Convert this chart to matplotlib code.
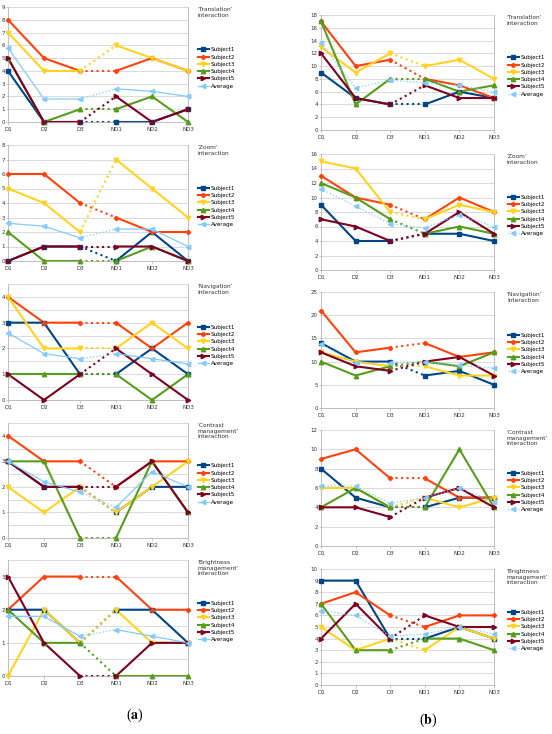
import matplotlib
matplotlib.use("Agg")
import matplotlib.pyplot as plt
from matplotlib.lines import Line2D
import numpy as np

plt.rcParams['font.family'] = ['DejaVu Sans']
plt.rcParams['mathtext.fontset'] = 'stix'

sessions = ["D1", "D2", "D3", "ND1", "ND2", "ND3"]
series_names = ["Subject1", "Subject2", "Subject3", "Subject4", "Subject5", "Average"]

titles = ["\u2018Translation\u2019\ninteraction",
          "\u2018Zoom\u2019\ninteraction",
          "\u2018Navigation\u2019\nInteraction",
          "\u2018Contrast\nmanagement\u2019\ninteraction",
          "\u2018Brightness\nmanagement\u2019\ninteraction"]

# ---- column (a) ----
a_translation = {
    "Subject1": [4, 0, 0, 0, 0, 1],
    "Subject2": [8, 5, 4, 4, 5, 4],
    "Subject3": [7, 4, 4, 6, 5, 4],
    "Subject4": [5, 0, 1, 1, 2, 0],
    "Subject5": [5, 0, 0, 2, 0, 1],
    "Average":  [5.8, 1.8, 1.8, 2.6, 2.4, 2.0],
}
a_zoom = {
    "Subject1": [0, 1, 1, 0, 2, 0],
    "Subject2": [6, 6, 4, 3, 2, 2],
    "Subject3": [5, 4, 2, 7, 5, 3],
    "Subject4": [2, 0, 0, 0, 1, 0],
    "Subject5": [0, 1, 1, 1, 1, 0],
    "Average":  [2.6, 2.4, 1.6, 2.2, 2.2, 1.0],
}
a_navigation = {
    "Subject1": [3, 3, 1, 1, 2, 1],
    "Subject2": [4, 3, 3, 3, 2, 3],
    "Subject3": [4, 2, 2, 2, 3, 2],
    "Subject4": [1, 1, 1, 1, 0, 1],
    "Subject5": [1, 0, 1, 2, 1, 0],
    "Average":  [2.6, 1.8, 1.6, 1.8, 1.6, 1.4],
}
a_contrast = {
    "Subject1": [3, 2, 2, 1, 2, 2],
    "Subject2": [4, 3, 3, 2, 3, 3],
    "Subject3": [2, 1, 2, 1, 2, 3],
    "Subject4": [3, 3, 0, 0, 3, 1],
    "Subject5": [3, 2, 2, 2, 3, 1],
    "Average":  [3.0, 2.2, 1.8, 1.2, 2.6, 2.0],
}
a_brightness = {
    "Subject1": [2, 2, 1, 2, 2, 1],
    "Subject2": [2, 3, 3, 3, 2, 2],
    "Subject3": [0, 2, 1, 2, 1, 1],
    "Subject4": [2, 1, 1, 0, 0, 0],
    "Subject5": [3, 1, 0, 0, 1, 1],
    "Average":  [1.8, 1.8, 1.2, 1.4, 1.2, 1.0],
}

# ---- column (b) ----
b_translation = {
    "Subject1": [9, 5, 4, 4, 6, 5],
    "Subject2": [17, 10, 11, 8, 7, 5],
    "Subject3": [13, 9, 12, 10, 11, 8],
    "Subject4": [17, 4, 8, 8, 6, 7],
    "Subject5": [12, 5, 4, 7, 5, 5],
    "Average":  [13.6, 6.6, 7.8, 7.4, 7.0, 6.0],
}
b_zoom = {
    "Subject1": [9, 4, 4, 5, 5, 4],
    "Subject2": [13, 10, 9, 7, 10, 8],
    "Subject3": [15, 14, 8, 7, 9, 8],
    "Subject4": [12, 10, 7, 5, 6, 5],
    "Subject5": [7, 6, 4, 5, 8, 5],
    "Average":  [11.2, 8.8, 6.4, 5.8, 7.6, 6.0],
}
b_navigation = {
    "Subject1": [14, 10, 10, 7, 8, 5],
    "Subject2": [21, 12, 13, 14, 11, 12],
    "Subject3": [12, 10, 9, 9, 7, 7],
    "Subject4": [10, 7, 9, 10, 9, 12],
    "Subject5": [12, 9, 8, 10, 11, 7],
    "Average":  [13.8, 9.6, 9.8, 10.0, 9.2, 8.6],
}
b_contrast = {
    "Subject1": [8, 5, 4, 4, 5, 5],
    "Subject2": [9, 10, 7, 7, 5, 5],
    "Subject3": [6, 6, 4, 5, 4, 5],
    "Subject4": [4, 6, 4, 4, 10, 4],
    "Subject5": [4, 4, 3, 5, 6, 4],
    "Average":  [6.2, 6.2, 4.4, 5.0, 6.0, 4.6],
}
b_brightness = {
    "Subject1": [9, 9, 4, 4, 5, 4],
    "Subject2": [7, 8, 6, 5, 6, 6],
    "Subject3": [5, 3, 4, 3, 5, 4],
    "Subject4": [7, 3, 3, 4, 4, 3],
    "Subject5": [4, 7, 4, 6, 5, 5],
    "Average":  [6.4, 6.0, 4.2, 4.4, 5.0, 4.4],
}

col_a = [a_translation, a_zoom, a_navigation, a_contrast, a_brightness]
col_b = [b_translation, b_zoom, b_navigation, b_contrast, b_brightness]

a_ylims = [(0, 9, 1, None), (0, 8, 1, None), (0, 4.5, 1, 0.5), (0, 4.5, 1, 0.5), (0, 3.5, 1, 0.5)]
b_ylims = [(0, 18, 2, None), (0, 16, 2, None), (0, 25, 5, None), (0, 12, 2, None), (0, 10, 1, None)]

colors = {"Subject1": "#004586", "Subject2": "#ff420e", "Subject3": "#ffd320",
          "Subject4": "#579d1c", "Subject5": "#7e0021", "Average": "#83caff"}
markers = {"Subject1": ("s", 3.2), "Subject2": ("D", 2.2), "Subject3": ("v", 3.2),
           "Subject4": ("^", 3.2), "Subject5": (">", 3.2), "Average": ("<", 3.2)}

W, H = 552, 734
fig = plt.figure(figsize=(W / 100, H / 100), dpi=100)

a_rows = [(7, 122), (145, 261), (284, 400), (423, 538), (560, 676)]
b_rows = [(15, 130), (154, 270), (292, 408), (430, 546), (569, 685)]
a_x = (8, 188)
b_x = (321, 494)

grid_c = "#d4d4d4"
axis_c = "#b3b3b3"
x = np.arange(len(sessions))


def draw(ax, data, ylim, title, avg_dotted, leg_x, title_x):
    lo, hi, step, minor = ylim
    ax.set_xlim(0, len(sessions) - 1)
    ax.set_ylim(lo, hi)
    ax.set_yticks(np.arange(lo, hi + 0.001, step))
    if minor:
        ax.set_yticks(np.arange(lo, hi + 0.001, minor), minor=True)
        ax.grid(True, axis="y", which="minor", color=grid_c, lw=0.6)
    ax.grid(True, axis="y", which="major", color=grid_c, lw=0.6)
    ax.set_axisbelow(True)
    ax.set_xticks(x)
    ax.set_xticklabels(sessions)
    ax.tick_params(axis="both", labelsize=4.0, colors=axis_c, labelcolor="#333333",
                   length=2, width=0.5, pad=1.5)
    ax.tick_params(axis="y", length=1.5, pad=0.8)
    ax.tick_params(axis="y", which="minor", length=0)
    for s in ["left", "bottom", "right"]:
        ax.spines[s].set_color(axis_c)
        ax.spines[s].set_linewidth(0.6)
    ax.spines["top"].set_visible(False)
    handles = []
    for name in series_names:
        vals = np.array(data[name], dtype=float)
        c = colors[name]
        m, ms = markers[name]
        if name == "Average":
            lw = 0.9
            ls_main = ":" if avg_dotted else "-"
        else:
            lw = 1.5
            ls_main = "-"
        ax.plot(x[0:3], vals[0:3], color=c, lw=lw, ls=ls_main, clip_on=False)
        ax.plot(x[2:4], vals[2:4], color=c, lw=lw, ls=":", clip_on=False)
        ax.plot(x[3:6], vals[3:6], color=c, lw=lw, ls=ls_main, clip_on=False)
        ax.plot(x, vals, ls="none", marker=m, ms=ms, color=c, clip_on=False, zorder=3)
        handles.append(Line2D([0], [0], color=c, lw=lw, ls=ls_main, marker=m, ms=ms,
                              label=name))
    ax.legend(handles=handles, loc="center left", bbox_to_anchor=(leg_x, 0.47),
              frameon=False, fontsize=4.1, handlelength=1.9, labelspacing=0.4,
              borderaxespad=0, borderpad=0, handletextpad=0.4)
    ax.text(title_x, 1.0, title, transform=ax.transAxes, va="top", ha="left",
            fontsize=4.2, color="#333333", linespacing=1.15)


for i in range(5):
    t, b = a_rows[i]
    ax = fig.add_axes([a_x[0] / W, 1 - b / H, (a_x[1] - a_x[0]) / W, (b - t) / H])
    draw(ax, col_a[i], a_ylims[i], titles[i], False, 1.055, 1.05)
    t, b = b_rows[i]
    ax = fig.add_axes([b_x[0] / W, 1 - b / H, (b_x[1] - b_x[0]) / W, (b - t) / H])
    draw(ax, col_b[i], b_ylims[i], titles[i], True, 1.08, 1.075)

fig.text(135 / W, 1 - 715 / H, r"($\mathbf{a}$)", ha="center", va="center",
         fontsize=10, family="Liberation Serif")
fig.text(428 / W, 1 - 720 / H, r"($\mathbf{b}$)", ha="center", va="center",
         fontsize=10, family="Liberation Serif")

fig.savefig("out.png", dpi=100)
